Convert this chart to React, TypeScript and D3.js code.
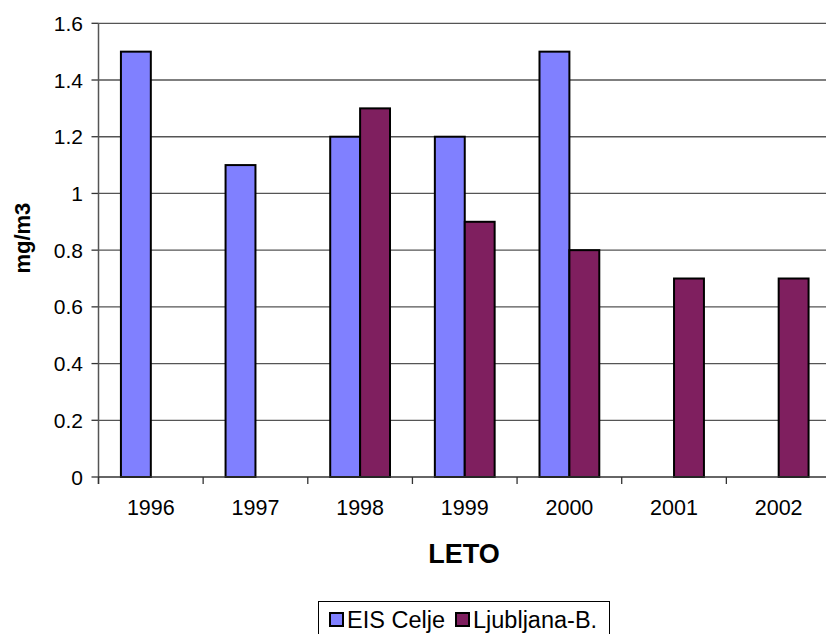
import React from "react";
import * as d3 from "d3";

const categories = ["1996", "1997", "1998", "1999", "2000", "2001", "2002"];
const seriesNames = ["EIS Celje", "Ljubljana-B."];
const eisCelje: (number | null)[] = [1.5, 1.1, 1.2, 1.2, 1.5, null, null];
const ljubljana: (number | null)[] = [null, null, 1.3, 0.9, 0.8, 0.7, 0.7];
const yTicks = [0, 0.2, 0.4, 0.6, 0.8, 1, 1.2, 1.4, 1.6];
const colors = ["#8080FF", "#7F1F5F"];

const W = 826;
const H = 634;
const left = 98.5;
const right = 831;
const top = 23.3;
const bottom = 477;
const font = "Liberation Sans, Arial, sans-serif";

export default function App() {
  const x = d3.scaleBand<string>().domain(categories).range([left, right]).paddingInner(0).paddingOuter(0);
  const y = d3.scaleLinear().domain([0, 1.6]).range([bottom, top]);
  const cw = x.bandwidth();
  const bw = cw / 3.5;
  const series = [eisCelje, ljubljana];
  const fmt = (v: number) => String(+v.toFixed(1));
  const tickX = categories.map((c) => x(c) as number).concat([right]);
  const legendX = [330, 456];

  return (
    <svg width={W} height={H} style={{ position: "absolute", left: 0, top: 0, background: "#fff" }}>
      <rect x={0} y={0} width={W} height={H} fill="#fff" />
      {yTicks.map((t) => (
        <g key={t}>
          {t > 0 && (
            <line x1={left} x2={W} y1={y(t)} y2={y(t)} stroke="#555" strokeWidth={1.3} />
          )}
          <line x1={left - 7} x2={left} y1={y(t)} y2={y(t)} stroke="#333" strokeWidth={1.3} />
          <text x={83} y={y(t)} dy="0.36em" textAnchor="end" fontFamily={font} fontSize={21} fill="#000">
            {fmt(t)}
          </text>
        </g>
      ))}
      {series.map((vals, si) =>
        vals.map((v, i) =>
          v == null ? null : (
            <rect
              key={si + "-" + i}
              x={(x(categories[i]) as number) + 0.75 * bw + si * bw}
              y={y(v)}
              width={bw}
              height={bottom - y(v)}
              fill={colors[si]}
              stroke="#000"
              strokeWidth={2}
            />
          )
        )
      )}
      <line x1={left} x2={left} y1={top} y2={bottom + 7} stroke="#555" strokeWidth={1.5} />
      <line x1={left} x2={W} y1={bottom} y2={bottom} stroke="#333" strokeWidth={1.5} />
      {tickX.map((tx, i) => (
        <line key={i} x1={tx} x2={tx} y1={bottom} y2={bottom + 7} stroke="#333" strokeWidth={1.3} />
      ))}
      {categories.map((c) => (
        <text key={c} x={(x(c) as number) + cw / 2} y={515} textAnchor="middle" fontFamily={font} fontSize={21.5} fill="#000">
          {c}
        </text>
      ))}
      <text x={464} y={563} textAnchor="middle" fontFamily={font} fontSize={27} fontWeight="bold" fill="#000">
        LETO
      </text>
      <text
        transform={`translate(30,${(top + bottom) / 2 - 12}) rotate(-90)`}
        textAnchor="middle"
        fontFamily={font}
        fontSize={22}
        fontWeight="bold"
        fill="#000"
      >
        mg/m3
      </text>
      <rect x={318.5} y={601.5} width={291} height={40} fill="#fff" stroke="#000" strokeWidth={1} />
      {seriesNames.map((n, i) => {
        const lx = legendX[i];
        return (
          <g key={n}>
            <rect x={lx} y={613} width={13} height={13} fill={colors[i]} stroke="#000" strokeWidth={2} />
            <text x={lx + 17} y={628} fontFamily={font} fontSize={23.5} fill="#000">
              {n}
            </text>
          </g>
        );
      })}
    </svg>
  );
}
